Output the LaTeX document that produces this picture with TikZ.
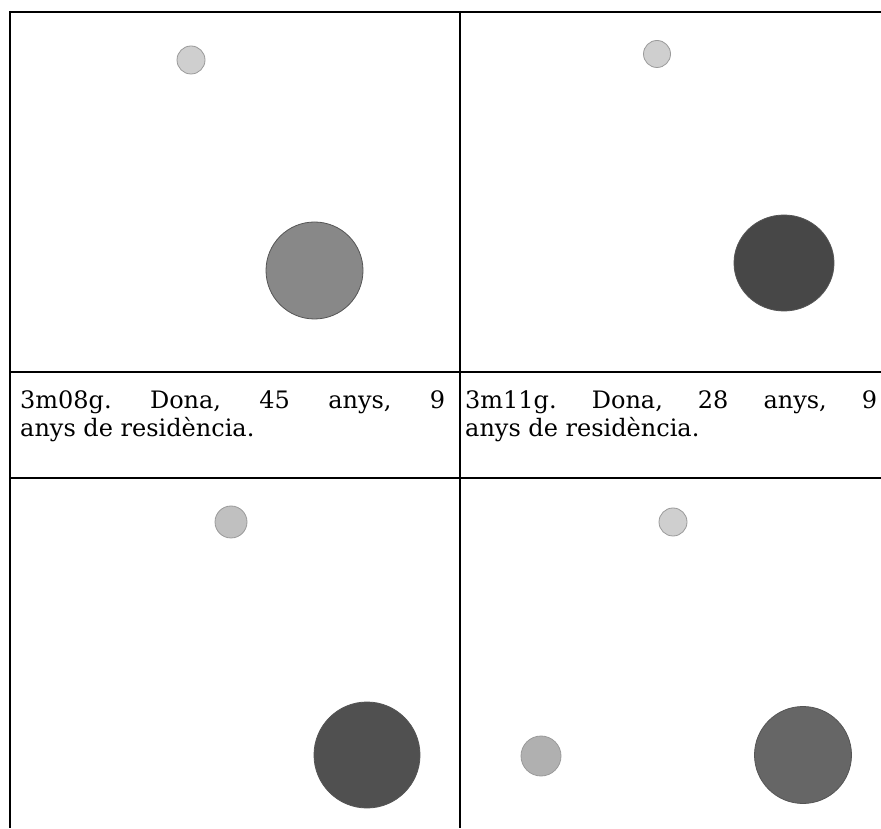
\documentclass[tikz,border=0pt]{standalone}
\usepackage{fontspec}
\setmainfont{DejaVu Serif}
\definecolor{gA}{HTML}{CFCFCF}
\definecolor{gAline}{HTML}{9A9A9A}
\definecolor{gB}{HTML}{888888}
\definecolor{gC}{HTML}{474747}
\definecolor{gD}{HTML}{C0C0C0}
\definecolor{gE}{HTML}{505050}
\definecolor{gF}{HTML}{B0B0B0}
\definecolor{gG}{HTML}{666666}
\definecolor{darkline}{HTML}{555555}
\begin{document}
\frenchspacing
\begin{tikzpicture}[x=1pt,y=1pt,
  rule/.style={line width=2pt,black},
  lightdot/.style={fill=gA,draw=gAline,line width=0.8pt},
  bigdot/.style={draw=darkline,line width=0.8pt},
  celltext/.style={anchor=base west,inner sep=0pt,font=\fontsize{24}{29}\selectfont}]
\useasboundingbox (0,0) rectangle (881,828);
\fill[white] (0,0) rectangle (881,828);
% table rules
\draw[rule] (9,816) -- (881,816);
\draw[rule] (9,456) -- (881,456);
\draw[rule] (9,350) -- (881,350);
\draw[rule] (9.5,817) -- (9.5,0);
\draw[rule] (460,817) -- (460,0);
% cell 1
\filldraw[lightdot] (191,768) circle (14);
\filldraw[bigdot,fill=gB] (314.5,557.5) circle (48.5);
% cell 2
\filldraw[lightdot] (657,774) circle (13.5);
\filldraw[bigdot,fill=gC] (784,565) ellipse (50 and 48);
% captions
\node[celltext] (t1a) at (20,419) {\makebox[425pt][s]{3m08g. Dona, 45 anys, 9}};
\node[celltext] (t1b) at (20,391) {anys de residència.};
\node[celltext] (t2a) at (465,419) {\makebox[412pt][s]{3m11g. Dona, 28 anys, 9}};
\node[celltext] (t2b) at (465,391) {anys de residència.};
% cell 3
\filldraw[lightdot,fill=gD] (231,306) circle (16);
\filldraw[bigdot,fill=gE] (367,73) circle (53);
% cell 4
\filldraw[lightdot] (673,306) circle (14);
\filldraw[lightdot,fill=gF] (541,72) circle (20);
\filldraw[bigdot,fill=gG] (803,73) circle (48.5);
\end{tikzpicture}
\end{document}
